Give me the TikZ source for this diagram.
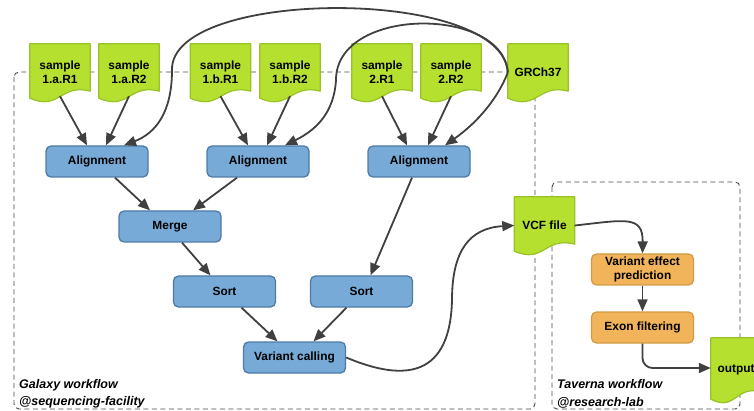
\documentclass[tikz,border=0pt]{standalone}
\usepackage{fontspec}
\setmainfont{Liberation Sans}
\usetikzlibrary{arrows.meta}
\definecolor{docgreen}{HTML}{B6E030}
\definecolor{docgreenline}{HTML}{98C225}
\definecolor{boxblue}{HTML}{77AAD7}
\definecolor{boxblueline}{HTML}{4E7BA6}
\definecolor{boxorange}{HTML}{F2B45A}
\definecolor{boxorangeline}{HTML}{D39A44}
\definecolor{arrowgray}{HTML}{404040}
\definecolor{dashgray}{HTML}{4A4A4A}
\pgfdeclarelayer{back}
\pgfdeclarelayer{shape}
\pgfsetlayers{back,shape,main}
\newcommand\nodefont{\fontsize{11.9}{14}\selectfont\bfseries}
\newcommand\labelfont{\fontsize{12.5}{17.5}\selectfont\bfseries\itshape}
\tikzset{
  docnode/.style={minimum width=60pt, minimum height=57pt, inner sep=0pt, align=center, font=\nodefont},
  docshape/.style={fill=docgreen, draw=docgreenline, line width=1.2pt, line join=round},
  bluebox/.style={rectangle, rounded corners=5pt, fill=boxblue, draw=boxblueline, line width=1.3pt, minimum width=102pt, minimum height=31pt, inner sep=0pt, font=\nodefont},
  orangebox/.style={rectangle, rounded corners=5pt, fill=boxorange, draw=boxorangeline, line width=1.3pt, minimum width=102pt, minimum height=31pt, inner sep=0pt, align=center, font=\nodefont},
  arr/.style={draw=arrowgray, line width=1.8pt, -{Triangle[length=12pt,width=10pt]}},
  wfbox/.style={draw=dashgray, line width=0.9pt, dash pattern=on 5pt off 3.5pt, rounded corners=5pt},
  wflabel/.style={anchor=west, align=left, inner sep=0pt, font=\labelfont}
}
\begin{document}
\begin{tikzpicture}[x=1pt, y=-1pt]
\useasboundingbox (0,0) rectangle (754,411);

% workflow boxes
\begin{pgfonlayer}{back}
  \draw[wfbox] (14,72) rectangle (535,409);
  \draw[wfbox] (552,182) rectangle (740,409);
\end{pgfonlayer}

% data (document) nodes
\node[docnode] (s1a1) at (60,72.5) {sample\\1.a.R1};
\node[docnode] (s1a2) at (129,72.5) {sample\\1.a.R2};
\node[docnode] (s1b1) at (220.5,72.5) {sample\\1.b.R1};
\node[docnode] (s1b2) at (290,72.5) {sample\\1.b.R2};
\node[docnode] (s2r1) at (382,72.5) {sample\\2.R1};
\node[docnode] (s2r2) at (451,72.5) {sample\\2.R2};
\node[docnode] (grc) at (538,72.5) {GRCh37};
\node[docnode] (vcf) at (544.5,225.5) {VCF file};
\node[docnode, minimum width=50pt, minimum height=64pt] (out) at (736,370) {output};

\begin{pgfonlayer}{shape}
  \foreach \n in {s1a1,s1a2,s1b1,s1b2,s2r1,s2r2,grc,vcf}{
    \draw[docshape] (\n.north west) -- (\n.north east) -- ([yshift=10pt]\n.south east)
      .. controls ([xshift=-30pt,yshift=18pt]\n.south east) and ([xshift=30pt,yshift=-10pt]\n.south west)
      .. ([yshift=3pt]\n.south west) -- cycle;
  }
  \draw[docshape] (out.north west) -- (out.north east) -- ([yshift=10pt]out.south east)
    .. controls ([xshift=-25pt,yshift=18pt]out.south east) and ([xshift=25pt,yshift=-10pt]out.south west)
    .. ([yshift=3pt]out.south west) -- cycle;
\end{pgfonlayer}

% process nodes
\node[bluebox] (al1) at (97,161.5) {Alignment};
\node[bluebox] (al2) at (258,161.5) {Alignment};
\node[bluebox] (al3) at (419,161.5) {Alignment};
\node[bluebox] (merge) at (170,226.5) {Merge};
\node[bluebox] (sort1) at (224.5,291.5) {Sort};
\node[bluebox] (sort2) at (361.5,291.5) {Sort};
\node[bluebox] (vc) at (294.5,357.5) {Variant calling};
\node[orangebox] (vep) at (642.5,269.5) {Variant effect\\prediction};
\node[orangebox] (ex) at (642.5,327.5) {Exon filtering};

% labels
\node[wflabel] (glab) at (19,394) {Galaxy workflow\\@sequencing-facility};
\node[wflabel] (tlab) at (557,394) {Taverna workflow\\@research-lab};

% connectors
\draw[arr] ([yshift=5pt]s1a1.south) -- ([xshift=-10pt]al1.north);
\draw[arr] ([yshift=5pt]s1a2.south) -- ([xshift=9pt]al1.north);
\draw[arr] ([yshift=5pt]s1b1.south) -- ([xshift=-10pt]al2.north);
\draw[arr] ([yshift=5pt]s1b2.south) -- ([xshift=9pt]al2.north);
\draw[arr] ([yshift=5pt]s2r1.south) -- ([xshift=-12pt]al3.north);
\draw[arr] ([yshift=5pt]s2r2.south) -- ([xshift=9pt]al3.north);

\draw[arr] (grc.west) .. controls (503,-14) and (170,-12) .. (172,70)
  .. controls (172,112) and (156,133) .. ([xshift=27pt]al1.north);
\draw[arr] (grc.west) .. controls (503,6) and (336,6) .. (336,80)
  .. controls (334,113) and (316,130) .. ([xshift=27pt]al2.north);
\draw[arr] (grc.west) .. controls (498,98) and (478,122) .. ([xshift=26pt]al3.north);

\draw[arr] ([xshift=18pt]al1.south) -- ([xshift=-20pt]merge.north);
\draw[arr] ([xshift=-21pt]al2.south) -- ([xshift=23pt]merge.north);
\draw[arr] ([xshift=12pt]merge.south) -- ([xshift=-14pt]sort1.north);
\draw[arr] ([xshift=-7pt]al3.south) -- ([xshift=9pt]sort2.north);
\draw[arr] ([xshift=17pt]sort1.south) -- ([xshift=-17pt]vc.north);
\draw[arr] ([xshift=-15pt]sort2.south) -- ([xshift=19pt]vc.north);

\draw[arr] (vc.east) .. controls (395,378) and (450,385) .. (452,300)
  .. controls (452,250) and (470,228) .. (vcf.west);
\draw[arr] (vcf.east) .. controls (625,220) and (643,215) .. (vep.north);
\draw[arr] (vep.south) -- (ex.north);
\draw[arr, rounded corners=10pt] (ex.south) |- ([yshift=2pt]out.west);
\end{tikzpicture}
\end{document}
